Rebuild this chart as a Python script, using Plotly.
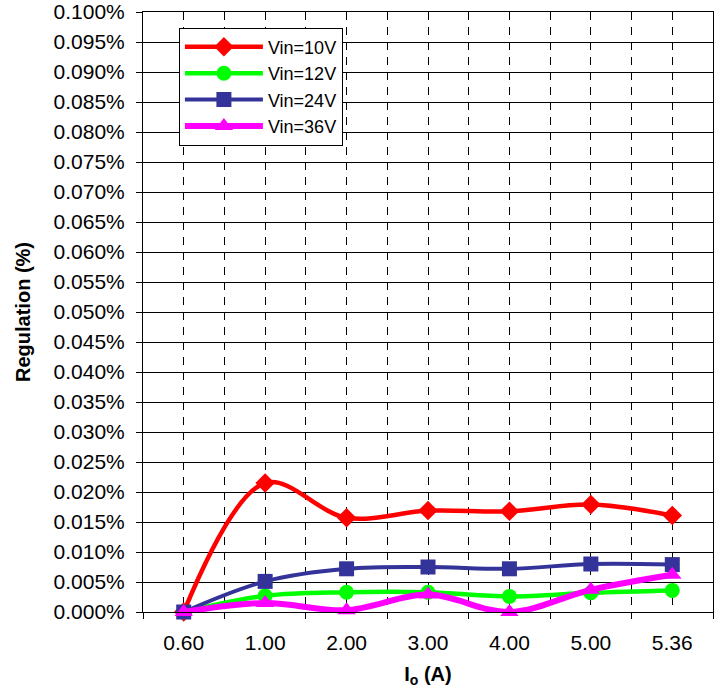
import plotly.graph_objects as go

categories = ["0.60", "1.00", "2.00", "3.00", "4.00", "5.00", "5.36"]
vin10 = [0.0000, 0.0215, 0.0157, 0.0169, 0.0168, 0.0179, 0.0161]
vin12 = [0.0000, 0.0027, 0.0033, 0.0033, 0.0026, 0.0032, 0.0036]
vin24 = [0.0000, 0.0051, 0.0072, 0.0075, 0.0072, 0.0080, 0.0079]
vin36 = [0.0000, 0.0015, 0.0003, 0.0029, 0.0000, 0.0037, 0.0062]
y_ticks = [i * 0.005 for i in range(21)]

xpos = list(range(len(categories)))
FONT = "Liberation Sans, Arial, sans-serif"

series = [
    ("Vin=10V", vin10, "#FF0000", "diamond", 4.5, 15),
    ("Vin=12V", vin12, "#00FF00", "circle", 4.5, 15),
    ("Vin=24V", vin24, "#333399", "square", 4, 15),
    ("Vin=36V", vin36, "#FF00FF", "triangle-up", 6, 16),
]

fig = go.Figure()
for name, vals, color, sym, lw, ms in series:
    fig.add_trace(go.Scatter(
        x=xpos, y=vals, name=name, mode="lines+markers",
        line=dict(color=color, width=lw, shape="spline", smoothing=1),
        marker=dict(symbol=sym, size=ms, color=color),
        cliponaxis=False,
    ))

fig.update_layout(
    width=722, height=690,
    margin=dict(l=143, r=9, t=12, b=78, autoexpand=False),
    paper_bgcolor="white", plot_bgcolor="white",
    font=dict(family=FONT, size=21, color="black"),
    showlegend=True,
    legend=dict(
        x=0.063, y=0.974, xanchor="left", yanchor="top",
        bgcolor="white", bordercolor="black", borderwidth=1,
        font=dict(family=FONT, size=18, color="black"),
        itemwidth=78, tracegroupgap=0,
    ),
    xaxis=dict(
        range=[-0.5, len(categories) - 0.5],
        tickvals=xpos, ticktext=categories,
        ticks="", showline=True, linecolor="black", linewidth=1, mirror=True,
        showgrid=True, gridcolor="black", gridwidth=1, griddash="8px,7px",
        zeroline=False, automargin=False,
        minor=dict(tick0=-0.5, dtick=1, ticks="outside", ticklen=6,
                   tickcolor="black", showgrid=True, gridcolor="black",
                   gridwidth=1, griddash="8px,7px"),
        ticklabelstandoff=12,
        tickfont=dict(size=21),
        title=dict(text="<b>I<sub>o</sub> (A)</b>", font=dict(size=20), standoff=13),
    ),
    yaxis=dict(
        range=[0, 0.1], tickvals=y_ticks,
        ticktext=[f"{v:.3f}%" for v in y_ticks],
        ticks="outside", ticklen=6, tickcolor="black",
        showline=True, linecolor="black", linewidth=1, mirror=True,
        showgrid=True, gridcolor="black", gridwidth=1,
        zeroline=False, automargin=False,
        ticklabelstandoff=7,
        tickfont=dict(size=21),
        title=dict(text="<b>Regulation (%)</b>", font=dict(size=20), standoff=17),
    ),
)

fig.write_html("out.html", config={"displayModeBar": False},
               post_script="document.body.style.margin='0px';")
